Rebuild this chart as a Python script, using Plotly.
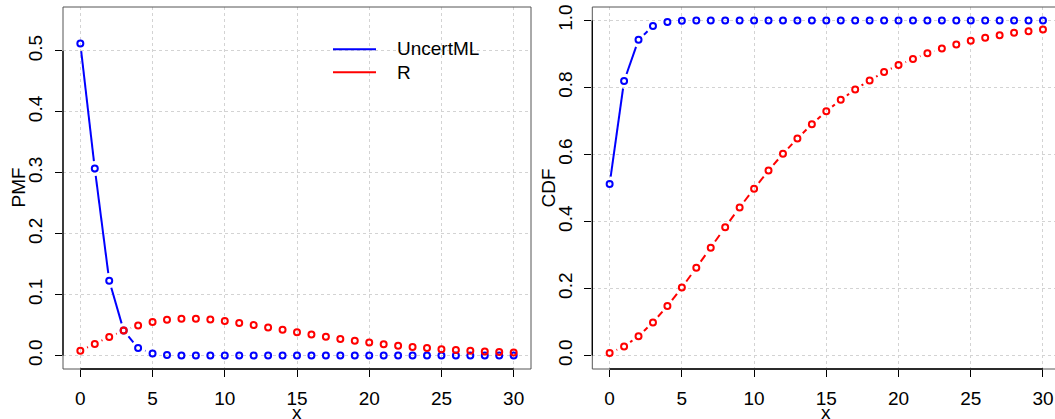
import math
import plotly.graph_objects as go

# ---------------- data ----------------
x_vals = list(range(0, 31))

pmf_uncertml = [0.512, 0.307, 0.123, 0.041, 0.0123, 0.0034, 0.0009, 0.0002, 0.0001,
                0, 0, 0, 0, 0, 0, 0, 0, 0, 0, 0, 0, 0, 0, 0, 0, 0, 0, 0, 0, 0, 0]
pmf_r = [0.008, 0.0192, 0.0307, 0.041, 0.0492, 0.0551, 0.0587, 0.0604, 0.0604, 0.0591,
         0.0567, 0.0536, 0.0500, 0.0462, 0.0422, 0.0383, 0.0345, 0.0308, 0.0274, 0.0242,
         0.0213, 0.0187, 0.0163, 0.0142, 0.0123, 0.0106, 0.0091, 0.0079, 0.0067, 0.0058,
         0.0049]
cdf_uncertml = [0.512, 0.819, 0.942, 0.983, 0.995, 0.999, 1.0, 1.0, 1.0, 1.0, 1.0, 1.0,
                1.0, 1.0, 1.0, 1.0, 1.0, 1.0, 1.0, 1.0, 1.0, 1.0, 1.0, 1.0, 1.0, 1.0,
                1.0, 1.0, 1.0, 1.0, 1.0]
cdf_r = [0.008, 0.027, 0.058, 0.099, 0.148, 0.203, 0.262, 0.322, 0.383, 0.442,
         0.498, 0.552, 0.602, 0.648, 0.690, 0.729, 0.763, 0.794, 0.821, 0.846,
         0.867, 0.885, 0.902, 0.916, 0.928, 0.939, 0.948, 0.956, 0.963, 0.968,
         0.973]

series_names = ["UncertML", "R"]
x_ticks = [0, 5, 10, 15, 20, 25, 30]
pmf_ticks = [0.0, 0.1, 0.2, 0.3, 0.4, 0.5]
cdf_ticks = [0.0, 0.2, 0.4, 0.6, 0.8, 1.0]

# ---------------- layout geometry ----------------
W, H = 1055, 419
BOX_TOP, BOX_BOT = 7, 369
L_LEFT, L_RIGHT = 63, 531
R_LEFT = 592.3
XR_L = [-1.2, 31.2]
PX_PER_X = (L_RIGHT - L_LEFT) / (XR_L[1] - XR_L[0])
XR_R = [-1.2, -1.2 + (W - R_LEFT) / PX_PER_X]
YR_PMF = [-0.022, 0.572]
YR_CDF = [-0.04, 1.04]
PLOT_H = BOX_BOT - BOX_TOP

BLUE = "#0000FF"
RED = "#FF0000"
FONT = "Liberation Sans, Arial, Helvetica, sans-serif"
FS = 19
GAP = 7.5  # px left open around each point (R type="b")


def gapped(xs, ys, sx, sy, gap=GAP):
    """Line segments between consecutive points, shortened around each point."""
    gx, gy = [], []
    for i in range(len(xs) - 1):
        dxp = (xs[i + 1] - xs[i]) * sx
        dyp = (ys[i + 1] - ys[i]) * sy
        length = math.hypot(dxp, dyp)
        if length <= 2 * gap:
            continue
        t0, t1 = gap / length, 1 - gap / length
        gx += [xs[i] + t0 * (xs[i + 1] - xs[i]), xs[i] + t1 * (xs[i + 1] - xs[i]), None]
        gy += [ys[i] + t0 * (ys[i + 1] - ys[i]), ys[i] + t1 * (ys[i + 1] - ys[i]), None]
    return gx, gy


fig = go.Figure()

panels = [
    ("x", "y", pmf_uncertml, pmf_r, PLOT_H / (YR_PMF[1] - YR_PMF[0])),
    ("x2", "y2", cdf_uncertml, cdf_r, PLOT_H / (YR_CDF[1] - YR_CDF[0])),
]
for xa, ya, blue_vals, red_vals, sy in panels:
    for vals, col, dash in [(blue_vals, BLUE, "solid"), (red_vals, RED, "8px,6px")]:
        lx, ly = gapped(x_vals, vals, PX_PER_X, sy)
        fig.add_trace(go.Scatter(x=lx, y=ly, mode="lines", xaxis=xa, yaxis=ya,
                                 line=dict(color=col, width=2, dash=dash),
                                 showlegend=False, hoverinfo="skip", connectgaps=False))
        fig.add_trace(go.Scatter(x=x_vals, y=vals, mode="markers", xaxis=xa, yaxis=ya,
                                 marker=dict(symbol="circle-open", size=6, color=col,
                                             line=dict(width=2, color=col)),
                                 showlegend=False))

ydom = [1 - BOX_BOT / H, 1 - BOX_TOP / H]
axis_common = dict(showgrid=True, gridcolor="#D3D3D3", griddash="dot", gridwidth=1,
                   zeroline=False, showline=False, ticks="outside", ticklen=7,
                   tickwidth=1, tickcolor="black", automargin=False,
                   tickfont=dict(family=FONT, size=FS, color="black"))

fig.update_layout(
    width=W, height=H, template="none",
    margin=dict(l=0, r=0, t=0, b=0),
    paper_bgcolor="white", plot_bgcolor="white", showlegend=False,
    xaxis=dict(domain=[L_LEFT / W, L_RIGHT / W], range=XR_L, tickvals=x_ticks,
               anchor="y", ticklabelstandoff=5, **axis_common),
    yaxis=dict(domain=ydom, range=YR_PMF, tickvals=pmf_ticks, tickformat=".1f",
               tickangle=-90, anchor="x", ticklabelstandoff=5, **axis_common),
    xaxis2=dict(domain=[R_LEFT / W, 1], range=XR_R, tickvals=x_ticks,
                anchor="y2", ticklabelstandoff=5, **axis_common),
    yaxis2=dict(domain=ydom, range=YR_CDF, tickvals=cdf_ticks, tickformat=".1f",
                tickangle=-90, anchor="x2", ticklabelstandoff=5, **axis_common),
)

shapes = []
# plot boxes
for x0 in (L_LEFT, R_LEFT):
    x1 = L_RIGHT if x0 == L_LEFT else R_LEFT + (L_RIGHT - L_LEFT)
    shapes.append(dict(type="rect", xref="paper", yref="paper",
                       x0=x0 / W, x1=x1 / W, y0=ydom[0], y1=ydom[1],
                       line=dict(color="#555555", width=1), layer="above"))
# axis lines from first to last tick
for xa, ya, yt in (("x", "y", pmf_ticks), ("x2", "y2", cdf_ticks)):
    shapes.append(dict(type="line", xref=xa, yref=ya + " domain",
                       x0=x_ticks[0], x1=x_ticks[-1], y0=0, y1=0,
                       line=dict(color="black", width=1.3), layer="above"))
    shapes.append(dict(type="line", xref=xa + " domain", yref=ya,
                       x0=0, x1=0, y0=yt[0], y1=yt[-1],
                       line=dict(color="black", width=1.3), layer="above"))
# legend lines
for i, col in enumerate([BLUE, RED]):
    yp = 1 - (49.3 + 23 * i) / H
    shapes.append(dict(type="line", xref="paper", yref="paper",
                       x0=333 / W, x1=376 / W, y0=yp, y1=yp,
                       line=dict(color=col, width=2)))
fig.update_layout(shapes=shapes)

ann = []
for i, name in enumerate(series_names):
    ann.append(dict(text=name, xref="paper", yref="paper", x=395 / W,
                    y=1 - (49 + 23.5 * i) / H, xanchor="left", yanchor="middle",
                    showarrow=False, font=dict(family=FONT, size=FS, color="black")))
# axis titles
for xc in ((L_LEFT + L_RIGHT) / 2, (R_LEFT + R_LEFT + L_RIGHT - L_LEFT) / 2):
    ann.append(dict(text="x", xref="paper", yref="paper", x=xc / W, y=1 - 412 / H,
                    xanchor="center", yanchor="middle", showarrow=False,
                    font=dict(family=FONT, size=FS, color="black")))
for txt, xc in (("PMF", 17.5), ("CDF", 547.5)):
    ann.append(dict(text=txt, xref="paper", yref="paper", x=xc / W,
                    y=1 - ((BOX_TOP + BOX_BOT) / 2) / H, textangle=-90,
                    xanchor="center", yanchor="middle", showarrow=False,
                    font=dict(family=FONT, size=FS, color="black")))
fig.update_layout(annotations=ann)

fig.write_html("out.html")
